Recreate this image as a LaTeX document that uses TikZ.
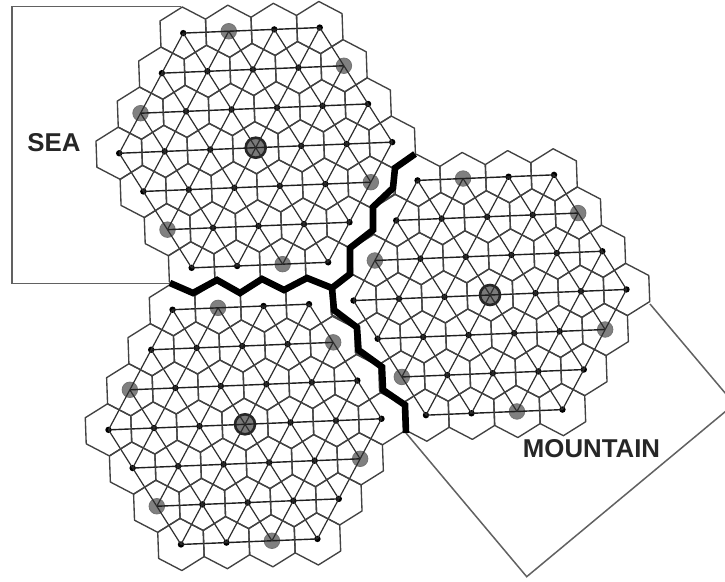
\documentclass[tikz,border=0pt]{standalone}
\usepackage{fontspec}
\setmainfont{Liberation Sans}
\tikzset{
  sitedot/.style={circle,fill=black,draw=none,inner sep=0pt,minimum size=6.4pt},
  greysite/.style={circle,fill=black!50,draw=black!55,line width=0.8pt,inner sep=0pt,minimum size=15.5pt},
  bigsite/.style={circle,fill=black!52,draw=black!85,line width=2.6pt,inner sep=0pt,minimum size=20pt},
  cell/.style={draw=black!74,line width=1.35pt,line join=round},
  rowlink/.style={draw=black!88,line width=1.4pt},
  diaglink/.style={draw=black!82,line width=1.2pt},
  region/.style={draw=black!62,line width=1.5pt,line join=miter},
  frontier/.style={draw=black,line width=6.6pt,line join=miter,line cap=butt},
  regionlabel/.style={font=\bfseries\fontsize{25.8}{28}\selectfont,text=black!85,inner sep=0pt}
}
\newcommand{\makecluster}[3]{%
  % #1 id, #2 cx, #3 cy
  \foreach \nn in {-3,...,3}{%
    \foreach \mm in {-3,...,3}{%
      \pgfmathtruncatemacro{\ok}{(abs(\mm-\nn)<=3)?1:0}%
      \ifnum\ok=1
        \pgfmathtruncatemacro{\ii}{\mm+3}%
        \pgfmathtruncatemacro{\jj}{\nn+3}%
        \pgfmathtruncatemacro{\id}{\ii*10+\jj}%
        \gdef\kind{sitedot}%
        \foreach \k in {46,65,14,52,1,20}{\ifnum\k=\id\relax\gdef\kind{greysite}\fi}%
        \ifnum\id=33\relax\gdef\kind{bigsite}\fi
        \node[\kind] (c#1-\ii-\jj) at ({#2+\mm*45.5-\nn*24.15},{#3-\mm*1.85-\nn*38.2}) {};
      \fi
    }%
  }%
  \foreach \nn in {-3,...,3}{%
    \foreach \mm in {-3,...,3}{%
      \pgfmathtruncatemacro{\ok}{(abs(\mm-\nn)<=3)?1:0}%
      \ifnum\ok=1
        \pgfmathtruncatemacro{\ii}{\mm+3}%
        \pgfmathtruncatemacro{\jj}{\nn+3}%
        \draw[cell] ([shift={(22.28,-13.97)}]c#1-\ii-\jj.center)
          -- ([shift={(-0.93,-26.08)}]c#1-\ii-\jj.center)
          -- ([shift={(-23.22,-12.12)}]c#1-\ii-\jj.center)
          -- ([shift={(-22.28,13.97)}]c#1-\ii-\jj.center)
          -- ([shift={(0.93,26.08)}]c#1-\ii-\jj.center)
          -- ([shift={(23.22,12.12)}]c#1-\ii-\jj.center) -- cycle;
        \foreach \dm/\dn/\sty in {1/0/rowlink,0/1/diaglink,1/1/diaglink}{%
          \pgfmathtruncatemacro{\pp}{\mm+\dm}%
          \pgfmathtruncatemacro{\qq}{\nn+\dn}%
          \pgfmathtruncatemacro{\okk}{(abs(\pp)<=3 && abs(\qq)<=3 && abs(\pp-\qq)<=3)?1:0}%
          \ifnum\okk=1
            \pgfmathtruncatemacro{\iii}{\pp+3}%
            \pgfmathtruncatemacro{\jjj}{\qq+3}%
            \draw[\sty] (c#1-\ii-\jj.center) -- (c#1-\iii-\jjj.center);
          \fi
        }%
      \fi
    }%
  }%
}
\begin{document}
\begin{tikzpicture}[x=1pt,y=-1pt]
  \path[use as bounding box,fill=white] (0,0) rectangle (725,581);
  \clip (0,0) rectangle (725,581);
  \draw[region] (181,6.5) -- (12,6.5) -- (12,283.5) -- (170,283.5);
  \draw[region] (650,304) -- (734.4,404) -- (526.7,576.7) -- (406,433);
  \makecluster{1}{255.7}{147.7}
  \makecluster{2}{490}{295}
  \makecluster{3}{245}{424.3}
  \coordinate (triple) at (332,288);
  \draw[frontier] (415,154) -- (395,168) -- (393,188) -- (373,207) -- (373,230) -- (350,248) -- (350,274) -- (triple);
  \draw[frontier] (triple) -- (307,278) -- (284,290) -- (262,279) -- (240,293) -- (217,280) -- (193,293) -- (170,283);
  \draw[frontier] (triple) -- (334,310) -- (357,327.5) -- (358.5,350) -- (382,367) -- (383,390) -- (405,405) -- (406,433);
  \node[regionlabel] (sea) at (54,142.5) {SEA};
  \node[regionlabel] (mountain) at (591.5,449) {MOUNTAIN};
\end{tikzpicture}
\end{document}
